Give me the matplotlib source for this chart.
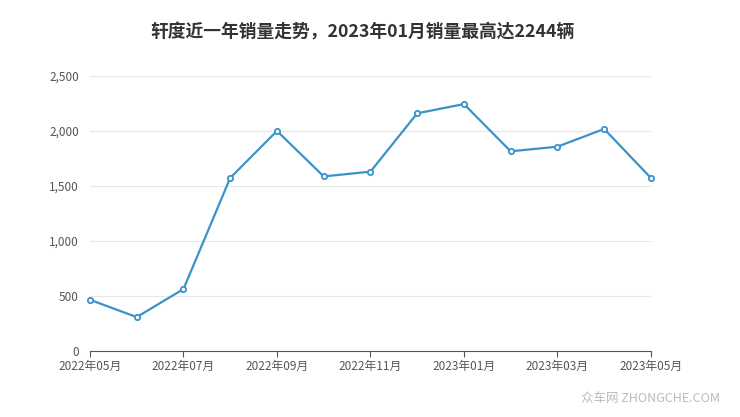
import numpy as np
import matplotlib.pyplot as plt

plt.rcParams['font.family'] = ['Noto Sans CJK SC', 'DejaVu Sans']

# monthly sales
months = ['2022年05月', '2022年06月', '2022年07月', '2022年08月', '2022年09月',
          '2022年10月', '2022年11月', '2022年12月', '2023年01月', '2023年02月',
          '2023年03月', '2023年04月', '2023年05月']
sales = [466, 309, 564, 1573, 2000, 1587, 1630, 2160, 2244, 1815, 1857, 2018, 1573]
yticks = [0, 500, 1000, 1500, 2000, 2500]

fig = plt.figure(figsize=(7.4, 4.17), dpi=100)
ax = fig.add_axes([0.1216, 0.158, 0.758, 0.66])

x = np.arange(len(months))
ax.plot(x, sales, color='#3a93c8', lw=1.6, marker='o', ms=3.8,
        mfc='white', mec='#3a93c8', mew=1.3, zorder=3, clip_on=False)

ax.set_xlim(0, len(months) - 1)
ax.set_ylim(0, 2500)
ax.set_yticks(yticks)
ax.set_yticklabels([f'{v:,}' for v in yticks])
ax.set_xticks(x[::2])
ax.set_xticklabels(months[::2])

ax.grid(axis='y', color='#e6e6e6', lw=0.8)
ax.set_axisbelow(True)
for s in ['top', 'right', 'left']:
    ax.spines[s].set_visible(False)
ax.spines['bottom'].set_color('#555555')
ax.tick_params(axis='y', length=0, pad=8, labelsize=8.5, labelcolor='#555555')
ax.tick_params(axis='x', length=4, color='#555555', labelsize=8.5,
               labelcolor='#555555', pad=2)

fig.text(0.49, 0.923, '轩度近一年销量走势，2023年01月销量最高达2244辆',
         ha='center', va='center', fontsize=12.8, fontweight='bold', color='#333333')
fig.text(0.973, 0.045, '众车网 ZHONGCHE.COM', ha='right', va='center',
         fontsize=9, color='#bbbbbb')

fig.savefig('out.png', dpi=100)
